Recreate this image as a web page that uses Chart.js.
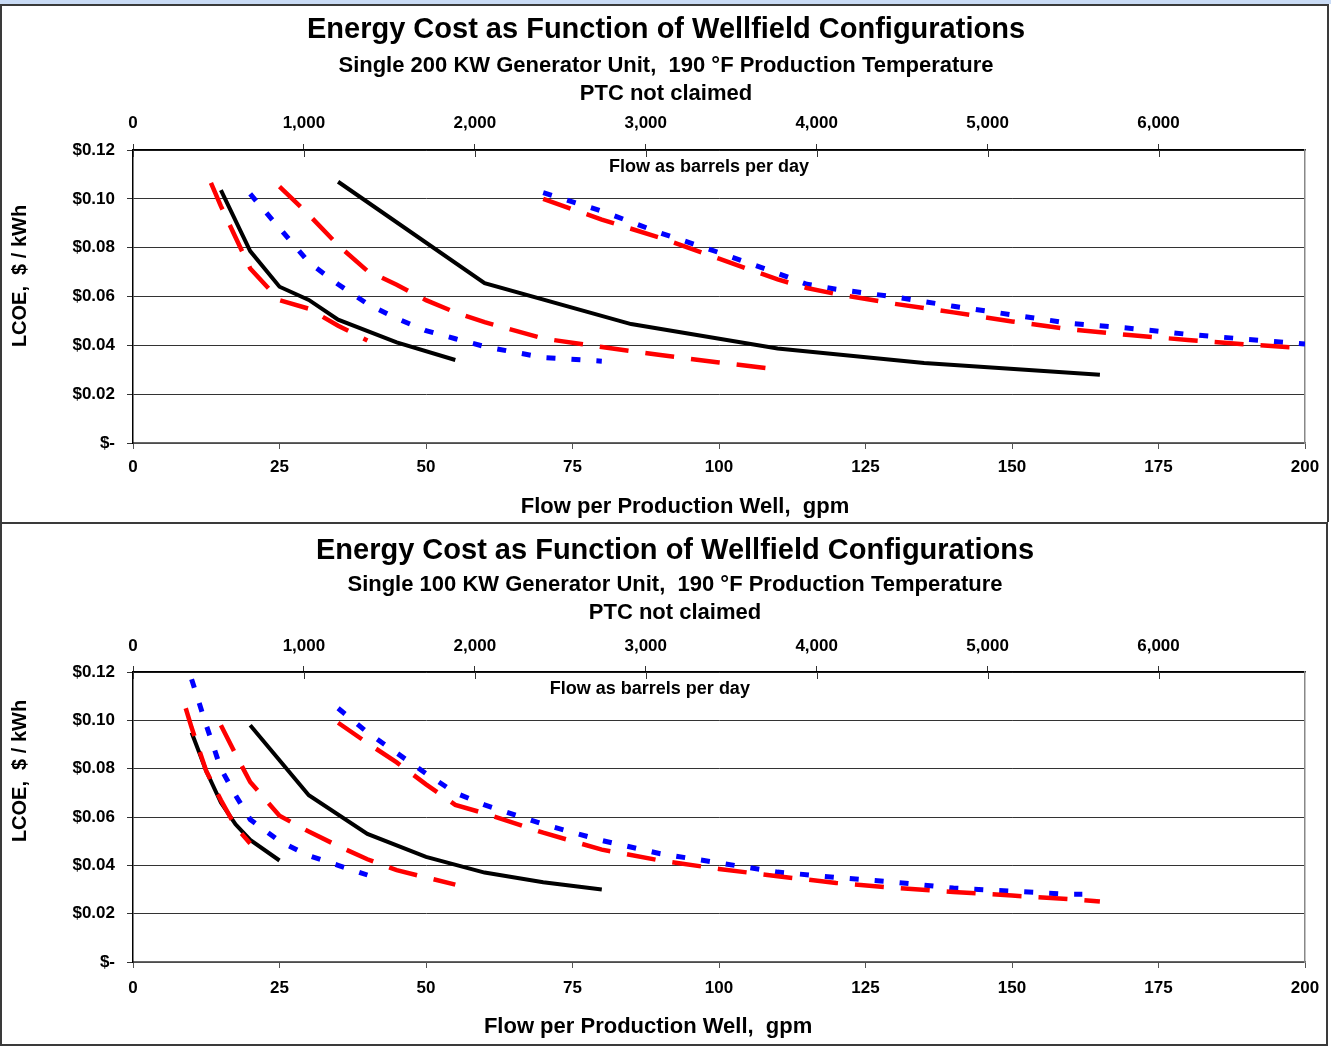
<!DOCTYPE html>
<html>
<head>
<meta charset="utf-8">
<script src="https://cdn.jsdelivr.net/npm/chart.js@4.4.1/dist/chart.umd.min.js"></script>
<style>
  html, body { margin: 0; padding: 0; background: #fff; }
  body { width: 1331px; height: 1048px; position: relative; overflow: hidden; }
  .strip { position: absolute; left: 0; top: 0; width: 1331px; height: 4px; background: #c9dbf5; }
  .panel { position: absolute; left: 0; border: 2px solid #3a3a3a; box-sizing: border-box; background: #fff; }
  #p1 { top: 4px; width: 1329px; height: 518px; border-bottom: none; }
  #p2 { top: 522px; width: 1328px; height: 524px; }
  canvas { display: block; }
</style>
</head>
<body>
<div class="strip"></div>
<div class="panel" id="p1"><canvas id="c1" width="1325" height="516"></canvas></div>
<div class="panel" id="p2"><canvas id="c2" width="1324" height="520"></canvas></div>
<script>
// tick values
const gpmTicks = [0, 25, 50, 75, 100, 125, 150, 175, 200];
const bpdTicks = [0, 1000, 2000, 3000, 4000, 5000, 6000];
const lcoeTicks = [0, 0.02, 0.04, 0.06, 0.08, 0.10, 0.12];
const BPD_PER_GPM = 1440 / 42;

// ---- Single 200 KW unit (top chart) ----
const k200RedShortGpm  = [13.3, 15, 20, 25, 30, 35, 40];
const k200RedShortLcoe = [0.1065, 0.097, 0.0715, 0.0585, 0.055, 0.048, 0.042];
const k200BlackShortGpm  = [15, 20, 25, 30, 35, 45, 55];
const k200BlackShortLcoe = [0.1036, 0.0786, 0.064, 0.0586, 0.0505, 0.0412, 0.034];
const k200BlueShortGpm  = [20, 25, 30, 35, 40, 45, 50, 55, 60, 70, 80];
const k200BlueShortLcoe = [0.102, 0.088, 0.074, 0.065, 0.057, 0.051, 0.046, 0.0427, 0.0395, 0.035, 0.0335];
const k200RedMidGpm  = [25, 30, 35, 40, 45, 50, 55, 60, 70, 80, 90, 100, 108];
const k200RedMidLcoe = [0.105, 0.0935, 0.081, 0.0705, 0.0648, 0.0585, 0.0535, 0.0495, 0.0428, 0.0393, 0.036, 0.033, 0.0307];
const k200BlackLongGpm  = [35, 60, 85, 110, 135, 165];
const k200BlackLongLcoe = [0.107, 0.0655, 0.0487, 0.0387, 0.0328, 0.028];
const k200RedLongGpm  = [70, 80, 90, 100, 110, 115, 120, 130, 140, 150, 160, 170, 180, 190, 200];
const k200RedLongLcoe = [0.100, 0.0915, 0.084, 0.0755, 0.067, 0.0635, 0.061, 0.057, 0.0535, 0.0498, 0.0465, 0.0442, 0.0422, 0.0404, 0.0388];
const k200BlueLongGpm  = [70, 80, 90, 100, 110, 115, 120, 130, 140, 150, 160, 170, 180, 190, 200];
const k200BlueLongLcoe = [0.1025, 0.095, 0.086, 0.078, 0.0695, 0.065, 0.063, 0.0598, 0.056, 0.0525, 0.049, 0.047, 0.0445, 0.0425, 0.0405];

// ---- Single 100 KW unit (bottom chart) ----
const k100RedShortGpm  = [9, 10, 12.5, 15, 17.5, 20];
const k100RedShortLcoe = [0.105, 0.097, 0.079, 0.067, 0.056, 0.049];
const k100BlackShortGpm  = [10, 12.5, 15, 17.5, 20, 25];
const k100BlackShortLcoe = [0.095, 0.079, 0.066, 0.057, 0.0505, 0.042];
const k100BlueShortGpm  = [10, 12.5, 15, 17.5, 20, 25, 30, 35, 40];
const k100BlueShortLcoe = [0.117, 0.098, 0.080, 0.069, 0.059, 0.050, 0.044, 0.040, 0.036];
const k100RedMidGpm  = [15, 17.5, 20, 25, 30, 35, 40, 45, 50, 55];
const k100RedMidLcoe = [0.098, 0.086, 0.0745, 0.0605, 0.054, 0.048, 0.0425, 0.038, 0.035, 0.032];
const k100BlackMidGpm  = [20, 30, 40, 50, 60, 70, 80];
const k100BlackMidLcoe = [0.098, 0.069, 0.053, 0.0435, 0.037, 0.033, 0.030];
const k100RedLongGpm  = [35, 40, 45, 50, 55, 60, 70, 80, 90, 100, 110, 120, 130, 140, 150, 160, 165];
const k100RedLongLcoe = [0.099, 0.0906, 0.0826, 0.0735, 0.065, 0.0615, 0.0535, 0.0465, 0.042, 0.0385, 0.0355, 0.0327, 0.0307, 0.029, 0.0275, 0.026, 0.025];
const k100BlueLongGpm  = [35, 40, 45, 50, 55, 60, 70, 80, 90, 100, 110, 120, 130, 140, 150, 160, 162];
const k100BlueLongLcoe = [0.105, 0.095, 0.0865, 0.078, 0.070, 0.065, 0.057, 0.0503, 0.0448, 0.041, 0.0372, 0.035, 0.033, 0.0306, 0.0293, 0.028, 0.028];

const FONT = '"Liberation Sans", Arial, sans-serif';
const styles = {
  black: { borderColor: '#000000', borderWidth: 4,   borderDash: [] },
  red:   { borderColor: '#ff0000', borderWidth: 4.5, borderDash: [29, 17] },
  blue:  { borderColor: '#0000ff', borderWidth: 5,   borderDash: [9, 16] }
};

function series(gpm, lcoe, style) {
  return Object.assign({
    data: gpm.map((g, i) => ({ x: g, y: lcoe[i] })),
    pointRadius: 0,
    tension: 0,
    fill: false,
    borderCapStyle: 'butt'
  }, styles[style]);
}

// titles, axis titles, the in-plot "Flow as barrels per day" note, inner top ticks
const chartText = {
  id: 'chartText',
  afterDraw(chart, args, o) {
    const { ctx, chartArea, scales } = chart;
    ctx.save();
    ctx.fillStyle = '#000';
    ctx.textAlign = 'center';
    ctx.textBaseline = 'middle';
    ctx.font = 'bold 29px ' + FONT;
    ctx.fillText(o.title, o.cx, o.titleY);
    ctx.font = 'bold 22px ' + FONT;
    o.subtitle.forEach((t, i) => ctx.fillText(t, o.cx, o.subY + i * 28));
    ctx.fillText(o.xTitle, scales.x.getPixelForValue(o.xTitleAt), o.xTitleY);
    ctx.font = 'bold 18px ' + FONT;
    ctx.fillText(o.flowNote, scales.x.getPixelForValue(o.flowAt), chartArea.top + 17);
    ctx.strokeStyle = '#333';
    ctx.lineWidth = 1;
    bpdTicks.forEach(v => {
      const px = Math.round(scales.x2.getPixelForValue(v)) + 0.5;
      ctx.beginPath();
      ctx.moveTo(px, chartArea.top);
      ctx.lineTo(px, chartArea.top + 7);
      ctx.stroke();
    });
    ctx.translate(18, o.yTitleY);
    ctx.rotate(-Math.PI / 2);
    ctx.font = 'bold 20px ' + FONT;
    ctx.fillText(o.yTitle, 0, 0);
    ctx.restore();
  }
};

function makeChart(id, subtitle, datasets, g) {
  const tickFont = { family: FONT, size: 17, weight: 'bold', lineHeight: 1.2 };
  return new Chart(document.getElementById(id), {
    type: 'line',
    data: { datasets },
    plugins: [chartText],
    options: {
      responsive: false,
      animation: false,
      layout: { padding: { top: g.plotTop - 40, left: 0, right: 0, bottom: 0 } },
      plugins: {
        legend: { display: false },
        tooltip: { enabled: false },
        chartText: {
          title: 'Energy Cost as Function of Wellfield Configurations',
          subtitle: [subtitle, 'PTC not claimed'],
          xTitle: 'Flow per Production Well,  gpm',
          yTitle: 'LCOE,  $ / kWh',
          flowNote: 'Flow as barrels per day',
          cx: g.cx, titleY: g.titleY, subY: g.subY,
          xTitleAt: g.xTitleAt, xTitleY: g.xTitleY,
          flowAt: g.flowAt, yTitleY: g.yTitleY
        }
      },
      scales: {
        x: {
          type: 'linear', position: 'bottom', min: 0, max: 200,
          afterBuildTicks: s => { s.ticks = gpmTicks.map(v => ({ value: v })); },
          afterFit: s => { s.height = g.h - g.plotBottom; s.paddingLeft = 0; s.paddingRight = 0; },
          grid: { drawOnChartArea: false, tickLength: 6, color: '#555' },
          border: { color: '#666', width: 1.5 },
          ticks: { color: '#000', padding: g.xLabY - g.plotBottom - 16.2, autoSkip: false, maxRotation: 0, font: tickFont }
        },
        x2: {
          type: 'linear', position: 'top', min: 0, max: 200 * BPD_PER_GPM,
          afterBuildTicks: s => { s.ticks = bpdTicks.map(v => ({ value: v })); },
          afterFit: s => { s.height = 40; s.paddingLeft = 0; s.paddingRight = 0; },
          grid: { drawOnChartArea: false, tickLength: 6, color: '#333' },
          border: { color: '#000', width: 1.5 },
          ticks: { color: '#000', padding: g.plotTop - 16.2 - g.topLabY, autoSkip: false, maxRotation: 0,
                   callback: v => v.toLocaleString('en-US'), font: tickFont }
        },
        y: {
          type: 'linear', position: 'left', min: 0, max: 0.12,
          afterBuildTicks: s => { s.ticks = lcoeTicks.map(v => ({ value: v })); },
          afterFit: s => { s.width = 131; },
          grid: { color: '#333', lineWidth: 1, tickLength: 6 },
          border: { color: '#000', width: 1.5 },
          ticks: { color: '#000', padding: 12, font: tickFont,
                   callback: v => v === 0 ? '$-' : '$' + v.toFixed(2) }
        },
        y2: {
          type: 'linear', position: 'right', min: 0, max: 0.12,
          afterFit: s => { s.width = g.w - 1303; },
          grid: { display: false },
          ticks: { display: false },
          border: { color: '#888', width: 1.5 }
        }
      }
    }
  });
}

makeChart('c1', 'Single 200 KW Generator Unit,  190 °F Production Temperature', [
  series(k200RedShortGpm, k200RedShortLcoe, 'red'),
  series(k200RedMidGpm, k200RedMidLcoe, 'red'),
  series(k200RedLongGpm, k200RedLongLcoe, 'red'),
  series(k200BlackShortGpm, k200BlackShortLcoe, 'black'),
  series(k200BlackLongGpm, k200BlackLongLcoe, 'black'),
  series(k200BlueShortGpm, k200BlueShortLcoe, 'blue'),
  series(k200BlueLongGpm, k200BlueLongLcoe, 'blue')
], { cx: 664, titleY: 24, subY: 60, plotTop: 144, topLabY: 117, plotBottom: 437, xLabY: 461,
     xTitleAt: 94.2, xTitleY: 501, h: 516, w: 1325, flowAt: 98.3, yTitleY: 270 });

makeChart('c2', 'Single 100 KW Generator Unit,  190 °F Production Temperature', [
  series(k100RedShortGpm, k100RedShortLcoe, 'red'),
  series(k100RedMidGpm, k100RedMidLcoe, 'red'),
  series(k100RedLongGpm, k100RedLongLcoe, 'red'),
  series(k100BlackShortGpm, k100BlackShortLcoe, 'black'),
  series(k100BlackMidGpm, k100BlackMidLcoe, 'black'),
  series(k100BlueShortGpm, k100BlueShortLcoe, 'blue'),
  series(k100BlueLongGpm, k100BlueLongLcoe, 'blue')
], { cx: 673, titleY: 27, subY: 61, plotTop: 148, topLabY: 122, plotBottom: 438, xLabY: 464,
     xTitleAt: 87.9, xTitleY: 503, h: 520, w: 1324, flowAt: 88.2, yTitleY: 247 });
</script>
</body>
</html>
